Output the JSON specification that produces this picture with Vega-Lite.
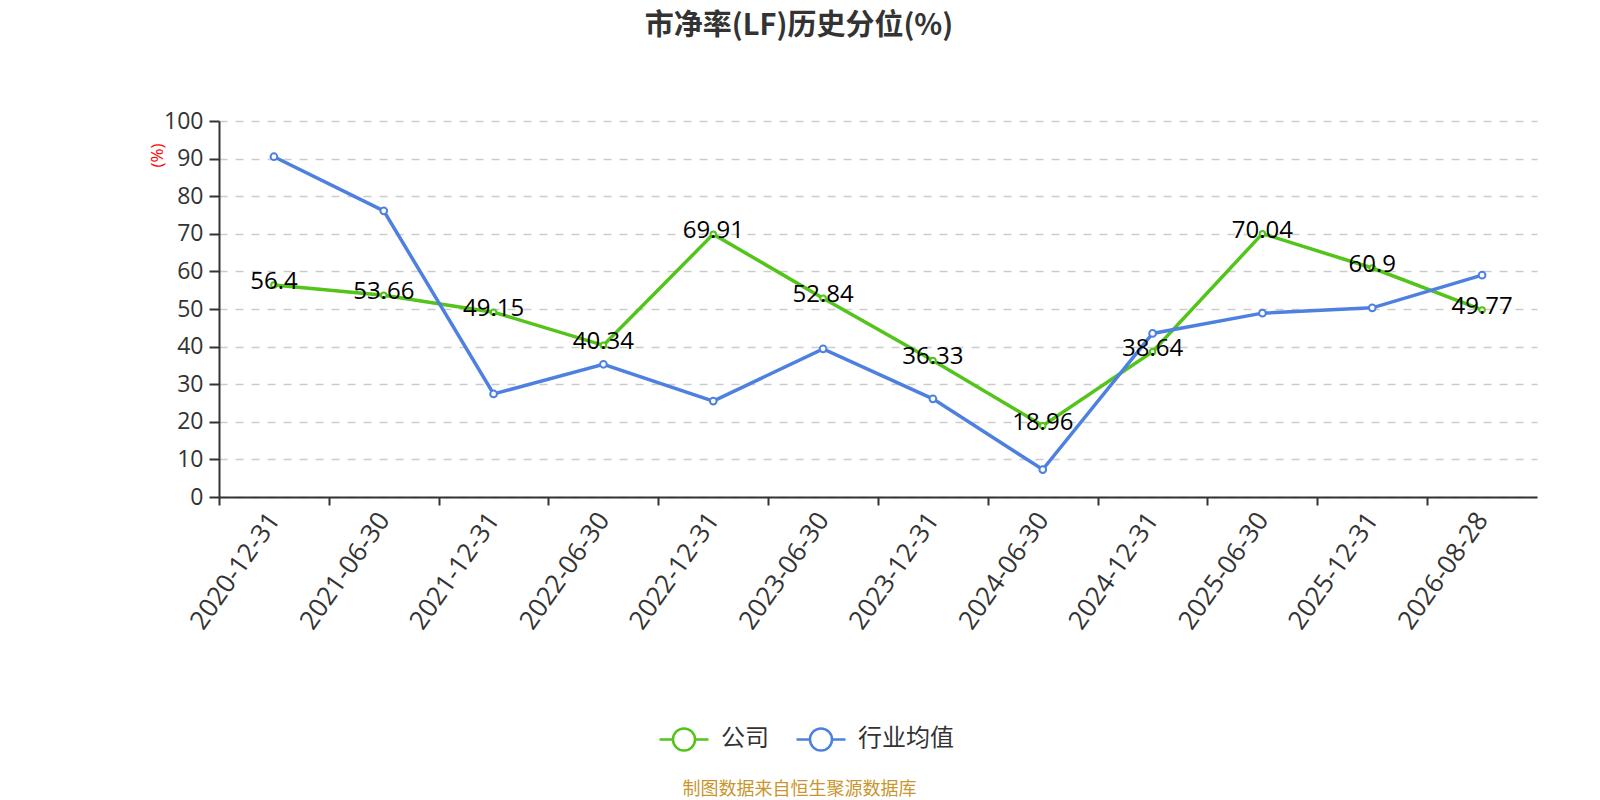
{
  "$schema": "https://vega.github.io/schema/vega-lite/v6.json",
  "autosize": {"type": "none"},
  "width": 1318,
  "height": 376,
  "padding": {"left": 219, "top": 121, "right": 63, "bottom": 303},
  "background": "white",
  "config": {"view": {"stroke": null}},
  "title": {
    "text": "市净率(LF)历史分位(%)",
    "font": "Noto Sans CJK SC",
    "fontSize": 29,
    "fontWeight": "bold",
    "color": "#333333",
    "anchor": "middle",
    "dx": -79,
    "offset": 69
  },
  "data": {
    "values": [
      {"date": "2020-12-31", "series": "公司", "value": 56.4},
      {"date": "2021-06-30", "series": "公司", "value": 53.66},
      {"date": "2021-12-31", "series": "公司", "value": 49.15},
      {"date": "2022-06-30", "series": "公司", "value": 40.34},
      {"date": "2022-12-31", "series": "公司", "value": 69.91},
      {"date": "2023-06-30", "series": "公司", "value": 52.84},
      {"date": "2023-12-31", "series": "公司", "value": 36.33},
      {"date": "2024-06-30", "series": "公司", "value": 18.96},
      {"date": "2024-12-31", "series": "公司", "value": 38.64},
      {"date": "2025-06-30", "series": "公司", "value": 70.04},
      {"date": "2025-12-31", "series": "公司", "value": 60.9},
      {"date": "2026-08-28", "series": "公司", "value": 49.77},
      {"date": "2020-12-31", "series": "行业均值", "value": 90.5},
      {"date": "2021-06-30", "series": "行业均值", "value": 76.1},
      {"date": "2021-12-31", "series": "行业均值", "value": 27.4},
      {"date": "2022-06-30", "series": "行业均值", "value": 35.3},
      {"date": "2022-12-31", "series": "行业均值", "value": 25.5},
      {"date": "2023-06-30", "series": "行业均值", "value": 39.4},
      {"date": "2023-12-31", "series": "行业均值", "value": 26.1},
      {"date": "2024-06-30", "series": "行业均值", "value": 7.3},
      {"date": "2024-12-31", "series": "行业均值", "value": 43.5},
      {"date": "2025-06-30", "series": "行业均值", "value": 48.9},
      {"date": "2025-12-31", "series": "行业均值", "value": 50.3},
      {"date": "2026-08-28", "series": "行业均值", "value": 59.0}
    ]
  },
  "encoding": {
    "x": {
      "field": "date",
      "type": "ordinal",
      "sort": null,
      "scale": {"type": "point", "padding": 0.5},
      "axis": {
        "labelAngle": -55,
        "labelAlign": "right",
        "labelBaseline": "middle",
        "labelFont": "Open Sans",
        "labelFontSize": 26,
        "labelColor": "#333333",
        "labelPadding": 10,
        "tickOffset": -54.92,
        "labelOffset": 54.92,
        "tickSize": 8,
        "tickWidth": 2,
        "tickColor": "#333333",
        "domainColor": "#333333",
        "domainWidth": 2,
        "grid": false,
        "title": "制图数据来自恒生聚源数据库",
        "titleFont": "Noto Sans CJK SC",
        "titleFontSize": 18,
        "titleFontWeight": "normal",
        "titleColor": "#C8962E",
        "titleX": 580,
        "titleY": 292,
        "titleAlign": "center",
        "titleBaseline": "middle"
      }
    },
    "y": {
      "field": "value",
      "type": "quantitative",
      "scale": {"domain": [0, 100], "nice": false},
      "axis": {
        "values": [0, 10, 20, 30, 40, 50, 60, 70, 80, 90, 100],
        "grid": true,
        "gridDash": [8, 8],
        "gridColor": "#cccccc",
        "gridWidth": 1.3,
        "domainColor": "#333333",
        "domainWidth": 2,
        "tickColor": "#333333",
        "tickWidth": 2,
        "tickSize": 10,
        "labelFont": "Open Sans",
        "labelFontSize": 23,
        "labelColor": "#333333",
        "labelPadding": 6,
        "title": "(%)",
        "titleFont": "Open Sans",
        "titleFontSize": 17,
        "titleFontWeight": "normal",
        "titleColor": "red",
        "titleAngle": -90,
        "titleX": -62,
        "titleY": 34,
        "titleAlign": "center",
        "titleBaseline": "middle"
      }
    },
    "color": {
      "field": "series",
      "type": "nominal",
      "scale": {"domain": ["公司", "行业均值"], "range": ["#52C41A", "#4E80E2"]},
      "legend": {
        "title": null,
        "orient": "none",
        "direction": "horizontal",
        "legendX": 439,
        "legendY": 592,
        "padding": 0,
        "symbolType": "M-1,0L-0.45,0M0.45,0L1,0M-0.45,0A0.45,0.45 0 1,1 0.45,0A0.45,0.45 0 1,1 -0.45,0Z",
        "symbolSize": 2401,
        "symbolStrokeWidth": 2.5,
        "symbolFillColor": "white",
        "labelFont": "Noto Sans CJK SC",
        "labelFontSize": 24,
        "labelColor": "#333333",
        "labelOffset": 11,
        "columnPadding": 22
      }
    }
  },
  "layer": [
    {
      "mark": {"type": "line", "strokeWidth": 3.5}
    },
    {
      "mark": {"type": "point", "filled": false, "fill": "white", "opacity": 1, "strokeWidth": 2},
      "encoding": {
        "size": {
          "condition": {"test": "datum.series === '公司'", "value": 30},
          "value": 45
        }
      }
    },
    {
      "transform": [{"filter": "datum.series === '公司'"}],
      "mark": {
        "type": "text",
        "font": "Open Sans",
        "fontSize": 24,
        "color": "black",
        "baseline": "middle",
        "dy": -3
      },
      "encoding": {
        "text": {"field": "value", "type": "quantitative"},
        "color": {"value": "black"}
      }
    }
  ]
}
